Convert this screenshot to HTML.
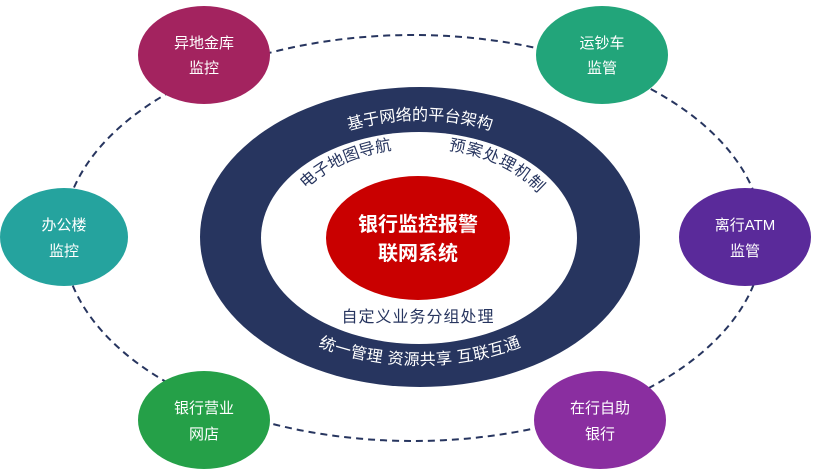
<!DOCTYPE html>
<html><head><meta charset="utf-8"><style>
html,body{margin:0;padding:0;background:#fff;}
svg{display:block;font-family:"Liberation Sans","Noto Sans CJK SC",sans-serif;}
</style></head><body>
<svg width="827" height="476" viewBox="0 0 827 476">
<defs>
<path id="topArc" d="M 245,240 A 175 120 0 0 1 595,240"/>
<path id="botArc" d="M 225,238 A 195 127 0 0 0 615,238"/>
<path id="inArc" d="M 283,240 A 137 92 0 0 1 557,240"/>
</defs>
<ellipse cx="413" cy="238" rx="350" ry="203" fill="none" stroke="#27355f" stroke-width="2" stroke-dasharray="7,5"/>
<ellipse cx="420" cy="237" rx="220" ry="150" fill="#27355f"/>
<ellipse cx="419" cy="238" rx="158" ry="106" fill="#fff"/>
<ellipse cx="418" cy="238" rx="92" ry="62" fill="#c90000"/>
<text font-size="16" fill="#fff"><textPath href="#topArc" startOffset="50%" text-anchor="middle">基于网络的平台架构</textPath></text>
<text font-size="16" fill="#fff" letter-spacing="0.5"><textPath href="#botArc" startOffset="50%" text-anchor="middle">统一管理  资源共享  互联互通</textPath></text>
<text font-size="16" fill="#27355f"><textPath href="#inArc" startOffset="29%" text-anchor="middle">电子地图导航</textPath></text>
<text font-size="16" fill="#27355f" letter-spacing="1"><textPath href="#inArc" startOffset="72%" text-anchor="middle">预案处理机制</textPath></text>
<text x="418" y="322" font-size="16" fill="#27355f" text-anchor="middle" letter-spacing="1">自定义业务分组处理</text>
<text x="418" y="231" font-size="20" fill="#fff" text-anchor="middle" font-weight="bold">银行监控报警</text>
<text x="418" y="260" font-size="20" fill="#fff" text-anchor="middle" font-weight="bold">联网系统</text>
<g font-size="15" fill="#fff" text-anchor="middle">
<ellipse cx="204" cy="55" rx="66" ry="49" fill="#a3235f"/>
<text x="204" y="48">异地金库</text><text x="204" y="73">监控</text>
<ellipse cx="602" cy="55" rx="66" ry="49" fill="#22a57a"/>
<text x="602" y="48">运钞车</text><text x="602" y="73">监管</text>
<ellipse cx="64" cy="237" rx="64" ry="49" fill="#25a39e"/>
<text x="64" y="230">办公楼</text><text x="64" y="256">监控</text>
<ellipse cx="745" cy="237" rx="66" ry="49" fill="#5a2a9a"/>
<text x="745" y="230">离行ATM</text><text x="745" y="256">监管</text>
<ellipse cx="204" cy="420" rx="66" ry="49" fill="#25a048"/>
<text x="204" y="413">银行营业</text><text x="204" y="439">网店</text>
<ellipse cx="600" cy="420" rx="66" ry="49" fill="#8a2ea0"/>
<text x="600" y="413">在行自助</text><text x="600" y="439">银行</text>
</g>
</svg>
</body></html>
